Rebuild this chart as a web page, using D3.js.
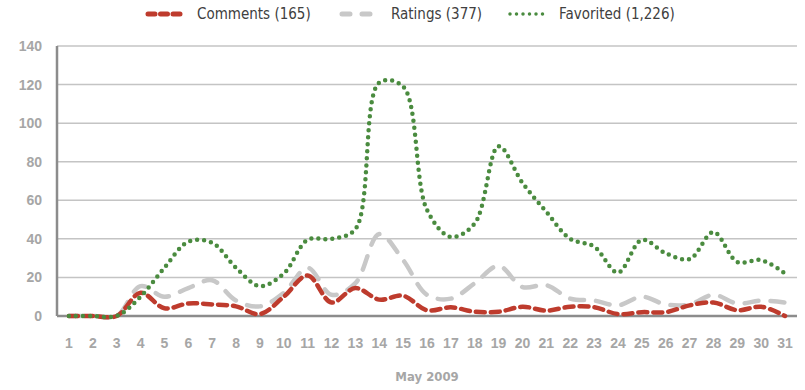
<!DOCTYPE html>
<html>
<head>
<meta charset="utf-8">
<script src="https://cdn.jsdelivr.net/npm/d3@7"></script>
<style>
	body { margin: 0; background: #fff; }
	svg { font-family: "Liberation Sans Narrow", "DejaVu Sans Condensed", "Roboto", sans-serif; }
</style>
</head>
<body>
<div id="chart"></div>
<script>
	const days = d3.range(1, 32).map(String);
	const comments = [0, 0, 0, 12, 4, 6.5, 6, 5, 1, 10, 21, 7, 14.5, 8.5, 10.5, 3, 4.5, 2.2, 2.2, 4.8, 2.8, 4.8, 4.6, 1, 2, 2, 5.5, 7, 3, 4.8, 0];
	const ratings = [0, 0, 0, 15.5, 10, 14.5, 18.5, 8, 5, 12, 25, 11, 17, 42.5, 29, 11, 9, 17, 26, 15, 16, 9, 8, 5.5, 10, 6, 6, 11, 6.5, 8, 7];
	const favorited = [0, 0, 0, 10, 25, 38.5, 38, 25, 15.5, 22, 39.5, 40, 45, 121, 119, 55, 41, 48, 88, 69, 54, 40, 36, 22.5, 39.5, 32.5, 29.5, 43.5, 28, 29, 22];
	const yTicks = [0, 20, 40, 60, 80, 100, 120, 140];
	const seriesNames = ['Comments (165)', 'Ratings (377)', 'Favorited (1,226)'];

	const W = 805, H = 390;
	const margin = { top: 46, right: 8, bottom: 74, left: 57 };
	const width = W - margin.left - margin.right;
	const height = H - margin.top - margin.bottom;

	const svg = d3.select('#chart').append('svg')
		.attr('width', W)
		.attr('height', H);

	const g = svg.append('g')
		.attr('transform', 'translate(' + margin.left + ',' + margin.top + ')');

	const x = d3.scaleBand().domain(days).range([0, width]);
	const y = d3.scaleLinear().domain([0, 140]).range([height, 0]);

	// gridlines
	g.append('g')
		.selectAll('line')
		.data(yTicks.slice(1))
		.join('line')
		.attr('x1', 0)
		.attr('x2', width)
		.attr('y1', function(d) { return y(d); })
		.attr('y2', function(d) { return y(d); })
		.attr('stroke', '#c4c4c4')
		.attr('stroke-width', 1.5);

	// axes
	const yAxis = g.append('g')
		.call(d3.axisLeft(y).tickValues(yTicks).tickSize(0).tickPadding(15));
	const xAxis = g.append('g')
		.attr('transform', 'translate(0,' + height + ')')
		.call(d3.axisBottom(x).tickSize(0).tickPadding(22));

	svg.selectAll('.domain').attr('stroke', '#8c8c8c').attr('stroke-width', 2.5);
	yAxis.select('.domain').attr('d', 'M0,0V' + height);
	xAxis.select('.domain').attr('d', 'M0,0H' + width);
	svg.selectAll('.tick text')
		.style('font-size', '14px')
		.style('font-weight', 'bold')
		.style('fill', '#a6a6a6');

	// axis title
	svg.append('text')
		.attr('x', margin.left + width / 2)
		.attr('y', 381)
		.attr('text-anchor', 'middle')
		.style('font-size', '13px')
		.style('font-weight', 'bold')
		.style('fill', '#a6a6a6')
		.text('May 2009');

	const styles = [
		{ values: comments, color: '#be3b2d', dash: '9,6', width: 4.5 },
		{ values: ratings, color: '#c8c8c8', dash: '14,12', width: 4.5 },
		{ values: favorited, color: '#4a8b3f', dash: '0,7', width: 4.5 }
	];

	const line = d3.line()
		.x(function(d, i) { return x(days[i]) + x.bandwidth() / 2; })
		.y(function(d) { return y(d); })
		.curve(d3.curveCatmullRom.alpha(0.5));

	// ratings underneath, favorited on top
	const drawOrder = [1, 0, 2];
	drawOrder.forEach(function(i) {
		const s = styles[i];
		g.append('path')
			.datum(s.values)
			.attr('d', line)
			.attr('fill', 'none')
			.attr('stroke', s.color)
			.attr('stroke-width', s.width)
			.attr('stroke-linecap', 'round')
			.attr('stroke-dasharray', s.dash);
	});

	// legend
	const legendX = [145, 339, 507];
	const legend = svg.append('g');
	styles.forEach(function(s, i) {
		legend.append('line')
			.attr('x1', legendX[i] + 3)
			.attr('x2', legendX[i] + 40)
			.attr('y1', 14)
			.attr('y2', 14)
			.attr('stroke', s.color)
			.attr('stroke-width', i === 2 ? 3.5 : 5)
			.attr('stroke-linecap', 'round')
			.attr('stroke-dasharray', i === 0 ? '7,5.5' : (i === 1 ? '8,12' : '0,6.5'));
		legend.append('text')
			.attr('x', legendX[i] + 52)
			.attr('y', 19)
			.style('font-size', '15px')
			.style('fill', '#404040')
			.text(seriesNames[i]);
	});
</script>
</body>
</html>
